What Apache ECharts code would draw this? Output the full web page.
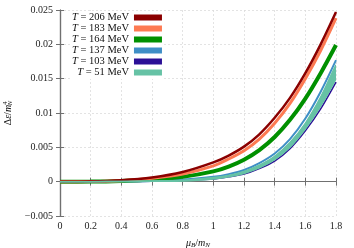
<!DOCTYPE html>
<html>
<head>
<meta charset="utf-8">
<script src="https://cdn.jsdelivr.net/npm/echarts@6/dist/echarts.min.js"></script>
<style>html,body{margin:0;padding:0;background:#fff}#c{width:354px;height:248px}</style>
</head>
<body>
<div id="c"></div>
<script>
var mu = [0, 0.2, 0.4, 0.6, 0.8, 1.0, 1.1, 1.2, 1.3, 1.4, 1.5, 1.6, 1.7, 1.8];
var T206 = [0, 0.00003, 0.0002, 0.0006, 0.0014, 0.0028, 0.0038, 0.0051, 0.0069, 0.0093, 0.0122, 0.0158, 0.0200, 0.0247];
var T183 = [0, 0.00002, 0.00015, 0.0005, 0.0011, 0.0023, 0.0033, 0.0045, 0.0062, 0.0085, 0.0114, 0.0150, 0.0191, 0.0238];
var T164 = [0, 0.00001, 0.0001, 0.0003, 0.0007, 0.0015, 0.0022, 0.0032, 0.0046, 0.0065, 0.0090, 0.0121, 0.0158, 0.0199];
var T137 = [0, 0, 0.00003, 0.0001, 0.0003, 0.0007, 0.0011, 0.0017, 0.0027, 0.0041, 0.0062, 0.0092, 0.0131, 0.0177];
var T103 = [0, 0, 0.00002, 0.00005, 0.0002, 0.0004, 0.0007, 0.0011, 0.0019, 0.0030, 0.0048, 0.0074, 0.0106, 0.0145];
var T51upper = [0, 0, 0.00003, 0.0001, 0.0002, 0.0006, 0.0009, 0.0015, 0.0024, 0.0037, 0.0057, 0.0085, 0.0123, 0.0170];
var T51lower = [0, 0, 0.00002, 0.00005, 0.0001, 0.0004, 0.0007, 0.0012, 0.0020, 0.0032, 0.0050, 0.0077, 0.0110, 0.0150];
var names = ['T = 206 MeV', 'T = 183 MeV', 'T = 164 MeV', 'T = 137 MeV', 'T = 103 MeV', 'T = 51 MeV'];

function pairs(v) { return mu.map(function (m, i) { return [m, v[i]]; }); }

var SERIF = '"Liberation Serif", "DejaVu Serif", serif';
var axisCol = '#707070';
var TEAL = '#66c2a5';
function lineSeries(name, data, color, width) {
  return { name: name, type: 'line', data: pairs(data), smooth: 0.3, showSymbol: false, symbol: 'none',
    color: color, lineStyle: { color: color, width: width }, z: 3 };
}
var chart = echarts.init(document.getElementById('c'), null, { renderer: 'canvas' });
chart.setOption({
  animation: false,
  backgroundColor: '#fff',
  grid: { left: 60, right: 18, top: 10, bottom: 32, containLabel: false, outerBoundsMode: 'none' },
  legend: {
    orient: 'vertical', align: 'right', left: 70, top: 11,
    icon: 'rect', itemWidth: 28, itemHeight: 6, itemGap: 0,
    backgroundColor: '#fff', padding: [1, 2, 1, 2],
    data: names,
    formatter: function (n) { return '{i|T}{r|' + n.slice(1) + '}'; },
    textStyle: {
      fontFamily: SERIF, fontSize: 10.5, color: '#111', lineHeight: 9.6,
      rich: {
        i: { fontFamily: SERIF, fontStyle: 'italic', fontSize: 10.5, color: '#111', lineHeight: 9.6 },
        r: { fontFamily: SERIF, fontSize: 10.5, color: '#111', lineHeight: 9.6 }
      }
    }
  },
  xAxis: [
    { type: 'value', min: 0, max: 1.8, interval: 0.2, position: 'bottom',
      name: '{i|μ}{s|B}{r|/}{i|m}{s|N}', nameLocation: 'middle', nameGap: 21,
      nameTextStyle: { rich: {
        i: { fontFamily: SERIF, fontStyle: 'italic', fontSize: 10, color: '#111', lineHeight: 12 },
        r: { fontFamily: SERIF, fontSize: 10, color: '#111', lineHeight: 12 },
        s: { fontFamily: SERIF, fontStyle: 'italic', fontSize: 7, color: '#111', verticalAlign: 'bottom', lineHeight: 8, padding: [4, 0, 0, 0] }
      } },
      axisLine: { show: true, lineStyle: { color: axisCol, width: 1.2 } },
      axisTick: { show: true, inside: true, length: 4, lineStyle: { color: axisCol } },
      axisLabel: { margin: 5, fontFamily: SERIF, fontSize: 10, color: '#222',
        formatter: function (v) { return String(parseFloat(v.toFixed(2))); } },
      splitLine: { show: true, lineStyle: { color: '#dcdcdc', type: [2, 2], width: 0.8 } }
    },
    { type: 'value', min: 0, max: 1.8, interval: 0.2, position: 'top',
      axisLine: { show: true, lineStyle: { color: axisCol, width: 1.2 } },
      axisTick: { show: true, inside: true, length: 4, lineStyle: { color: axisCol } },
      axisLabel: { show: false }, splitLine: { show: false }
    }
  ],
  yAxis: [
    { type: 'value', min: -0.005, max: 0.025, interval: 0.005, position: 'left',
      name: '{r|Δ}{i|ε}{r|/}{i|m}{sp|4}{s|N}', nameLocation: 'middle', nameGap: 41, nameRotate: 90,
      nameTextStyle: { rich: {
        i: { fontFamily: SERIF, fontStyle: 'italic', fontSize: 10, color: '#111', lineHeight: 12 },
        r: { fontFamily: SERIF, fontSize: 10, color: '#111', lineHeight: 12 },
        sp: { fontFamily: SERIF, fontSize: 7, color: '#111', verticalAlign: 'top', lineHeight: 8, padding: [0, 0, 4, 0] },
        s: { fontFamily: SERIF, fontStyle: 'italic', fontSize: 7, color: '#111', verticalAlign: 'bottom', lineHeight: 8, padding: [4, 0, 0, -4] }
      } },
      axisLine: { show: true, lineStyle: { color: axisCol, width: 1.2 } },
      axisTick: { show: true, inside: true, length: 4, lineStyle: { color: axisCol } },
      axisLabel: { margin: 7, fontFamily: SERIF, fontSize: 10, color: '#222',
        formatter: function (v) { var s = String(parseFloat(v.toFixed(4))); return s.replace('-', '−'); } },
      splitLine: { show: true, lineStyle: { color: '#dcdcdc', type: [2, 2], width: 0.8 } }
    },
    { type: 'value', min: -0.005, max: 0.025, interval: 0.005, position: 'right',
      axisLine: { show: true, lineStyle: { color: axisCol, width: 1.2 } },
      axisTick: { show: true, inside: true, length: 4, lineStyle: { color: axisCol } },
      axisLabel: { show: false }, splitLine: { show: false }
    }
  ],
  series: [
    { name: names[5], type: 'custom', color: TEAL, z: 4,
      data: [[0, 0]],
      renderItem: function (params, api) {
        var up = [], lo = [];
        for (var i = 0; i < mu.length; i++) {
          up.push(api.coord([mu[i], T51upper[i]]));
          lo.push(api.coord([mu[i], T51lower[i]]));
        }
        var pts = up.concat(lo.slice().reverse());
        return { type: 'group', children: [
          { type: 'polyline', shape: { points: up, smooth: 0.3 }, style: { stroke: TEAL, fill: null, lineWidth: 1.5 } },
          { type: 'polyline', shape: { points: lo, smooth: 0.3 }, style: { stroke: TEAL, fill: null, lineWidth: 1.5 } },
          { type: 'polygon', shape: { points: pts, smooth: 0.3 }, style: { fill: TEAL, stroke: TEAL, lineWidth: 0.5 } }
        ] };
      },
      clip: true
    },
    lineSeries(names[4], T103, '#2b0f96', 1.5),
    lineSeries(names[3], T137, '#3f8fc6', 2),
    lineSeries(names[2], T164, '#009000', 4),
    lineSeries(names[1], T183, '#fd7a52', 3),
    lineSeries(names[0], T206, '#8b0000', 2.5)
  ]
});
</script>
</body>
</html>
